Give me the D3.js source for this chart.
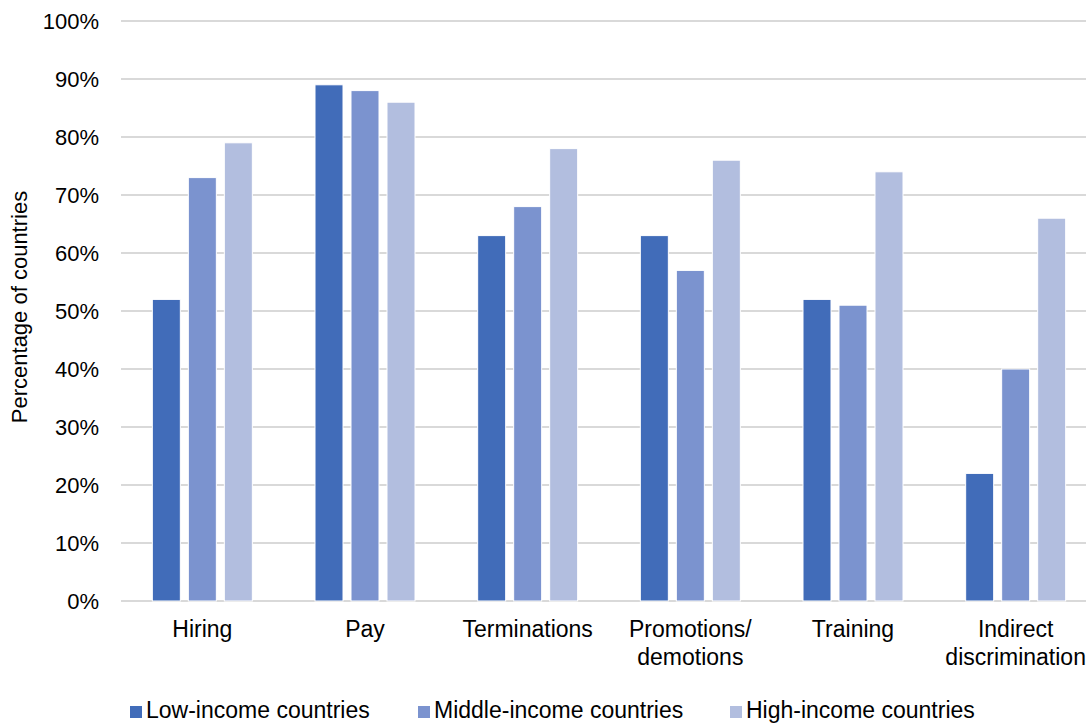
<!DOCTYPE html>
<html>
<head>
<meta charset="utf-8">
<script src="https://cdn.jsdelivr.net/npm/d3@7"></script>
<style>
  body { margin: 0; background: #fff; }
  text { font-family: "Liberation Sans", Arial, sans-serif; fill: #000; }
</style>
</head>
<body>
<div id="chart"></div>
<script>
const categories = [['Hiring'], ['Pay'], ['Terminations'], ['Promotions/', 'demotions'], ['Training'], ['Indirect', 'discrimination']];
const seriesNames = ['Low-income countries', 'Middle-income countries', 'High-income countries'];
const lowIncome = [52, 89, 63, 63, 52, 22];
const middleIncome = [73, 88, 68, 57, 51, 40];
const highIncome = [79, 86, 78, 76, 74, 66];
const yTicks = [0, 10, 20, 30, 40, 50, 60, 70, 80, 90, 100];

const colors = ['#416cb9', '#7b93cf', '#b2bedf'];
const seriesValues = [lowIncome, middleIncome, highIncome];

const svgWidth = 1086, svgHeight = 723;
const margin = { top: 21, left: 121, bottom: 122 };
const plotWidth = 976; // plot area runs past the right edge of the picture
const height = svgHeight - margin.top - margin.bottom;

const svg = d3.select('#chart').append('svg')
    .attr('width', svgWidth)
    .attr('height', svgHeight);

const g = svg.append('g').attr('transform', `translate(${margin.left}, ${margin.top})`);

//one band per category, bars grouped in the middle
const x = d3.scaleBand()
    .domain(d3.range(categories.length))
    .range([0, plotWidth]);

const groupWidth = 100;
const x1 = d3.scaleBand()
    .domain(d3.range(3))
    .range([(x.bandwidth() - groupWidth) / 2, (x.bandwidth() + groupWidth) / 2])
    .paddingInner(0.222);

const y = d3.scaleLinear().domain([0, 100]).range([height, 0]);

// gridlines
g.selectAll('.grid').data(yTicks).enter()
    .append('line')
    .attr('x1', 0).attr('x2', svgWidth)
    .attr('y1', d => y(d)).attr('y2', d => y(d))
    .attr('stroke', '#d9d9d9')
    .attr('stroke-width', 2);

// y tick labels
g.selectAll('.ylab').data(yTicks).enter()
    .append('text')
    .attr('x', -22)
    .attr('y', d => y(d))
    .attr('dy', '0.35em')
    .attr('text-anchor', 'end')
    .style('font-size', '22px')
    .text(d => d + '%');

// bars
const groups = g.selectAll('.cat').data(categories).enter()
    .append('g')
    .attr('transform', (d, i) => `translate(${x(i)}, 0)`);

groups.selectAll('rect')
    .data((d, i) => seriesValues.map((s, j) => ({ s: j, v: s[i] })))
    .enter().append('rect')
    .attr('x', d => x1(d.s))
    .attr('width', x1.bandwidth())
    .attr('y', d => y(d.v))
    .attr('height', d => height - y(d.v))
    .attr('fill', d => colors[d.s])
    .attr('stroke', '#fff')
    .attr('stroke-width', 1);

// category labels
groups.each(function (d) {
    const t = d3.select(this).append('text')
        .attr('x', x.bandwidth() / 2)
        .attr('y', height + 36)
        .attr('text-anchor', 'middle')
        .style('font-size', '23px');
    d.forEach((line, k) => {
        t.append('tspan')
            .attr('x', x.bandwidth() / 2)
            .attr('dy', k === 0 ? 0 : 28)
            .text(line);
    });
});

// y axis title
svg.append('text')
    .attr('transform', `translate(27, 307) rotate(-90)`)
    .attr('text-anchor', 'middle')
    .style('font-size', '22px')
    .text('Percentage of countries');

// legend
const legendX = [130, 418, 730];
const legend = svg.selectAll('.legend').data(seriesNames).enter()
    .append('g')
    .attr('transform', (d, i) => `translate(${legendX[i]}, 718)`);

legend.append('rect')
    .attr('x', 0).attr('y', -12)
    .attr('width', 12).attr('height', 12)
    .attr('fill', (d, i) => colors[i]);

legend.append('text')
    .attr('x', 16)
    .attr('y', 0)
    .style('font-size', '23px')
    .text(d => d);
</script>
</body>
</html>
